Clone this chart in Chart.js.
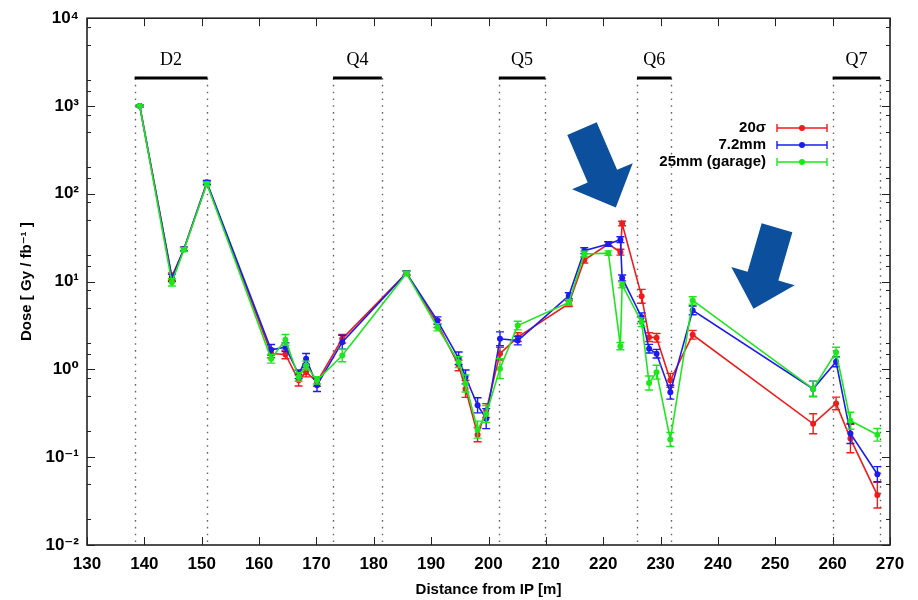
<!DOCTYPE html>
<html>
<head>
<meta charset="utf-8">
<script src="https://cdn.jsdelivr.net/npm/chart.js@4.4.0/dist/chart.umd.min.js"></script>
<style>
  html, body { margin: 0; padding: 0; background: #fff; }
  #wrap { width: 918px; height: 600px; }
</style>
</head>
<body>
<div id="wrap"><canvas id="doseChart" width="918" height="600"></canvas></div>
<script>
// distance from IP [m] of each dose sample
const distance = [139.2, 144.8, 146.9, 150.9, 162.1, 164.6, 166.9, 168.2, 170.1, 174.5, 185.7, 191.1, 194.8, 196.0, 198.1, 199.6,
                  202.0, 205.1, 214.0, 216.7, 220.9, 223.0, 223.3, 226.7, 228.0, 229.3, 231.7, 235.6, 256.6, 260.6, 263.1, 267.8];

// dose [Gy / fb^-1] for the three collimator settings
const dose20sigma = [1000, 11.4, 23.5, 132, 1.52, 1.48, 0.75, 0.93, 0.72, 2.23, 12.5, 3.3, 1.11, 0.60, 0.18, 0.34,
                     1.51, 2.33, 5.6, 17.6, 26.8, 21.6, 45.9, 6.8, 2.33, 2.29, 0.75, 2.48, 0.24, 0.41, 0.163, 0.037];
const dose72mm    = [1000, 11.0, 23.5, 135, 1.67, 1.79, 0.88, 1.32, 0.66, 2.04, 12.5, 3.6, 1.34, 0.82, 0.39, 0.275,
                     2.23, 2.13, 6.9, 22.5, 26.8, 30.0, 11.0, 3.93, 1.72, 1.51, 0.55, 4.7, 0.60, 1.22, 0.186, 0.064];
const dose25mm    = [1000, 9.8, 23.1, 130, 1.32, 2.17, 0.82, 1.11, 0.75, 1.44, 12.4, 3.02, 1.21, 0.69, 0.206, 0.31,
                     1.02, 3.16, 5.8, 20.6, 21.1, 1.84, 9.2, 3.45, 0.70, 0.93, 0.159, 6.1, 0.60, 1.57, 0.26, 0.18];

// relative errors
const err20sigma = [0.03, 0.10, 0.05, 0.05, 0.12, 0.12, 0.16, 0.13, 0.12, 0.12, 0.06, 0.10, 0.15, 0.25, 0.20, 0.20,
                    0.18, 0.12, 0.08, 0.08, 0.06, 0.08, 0.06, 0.20, 0.12, 0.12, 0.20, 0.12, 0.30, 0.18, 0.45, 0.40];
const err72mm    = [0.03, 0.10, 0.05, 0.05, 0.15, 0.12, 0.12, 0.15, 0.18, 0.20, 0.06, 0.10, 0.18, 0.20, 0.22, 0.30,
                    0.20, 0.12, 0.08, 0.08, 0.06, 0.08, 0.08, 0.12, 0.12, 0.12, 0.20, 0.12, 0.22, 0.14, 0.30, 0.22];
const err25mm    = [0.03, 0.10, 0.05, 0.05, 0.12, 0.15, 0.12, 0.12, 0.10, 0.18, 0.06, 0.10, 0.15, 0.25, 0.25, 0.25,
                    0.30, 0.12, 0.08, 0.08, 0.06, 0.10, 0.08, 0.12, 0.20, 0.20, 0.20, 0.10, 0.22, 0.14, 0.25, 0.18];

const seriesLabels = ['20σ', '7.2mm', '25mm (garage)'];
const seriesColors = ['#ee1c1c', '#1c1cee', '#1ee61e'];

// magnet extents along the beamline [m]
const magnetNames = ['D2', 'Q4', 'Q5', 'Q6', 'Q7'];
const magnetStart = [138.3, 172.9, 201.8, 225.9, 260.0];
const magnetEnd   = [151.0, 181.4, 209.9, 231.9, 268.3];

// arrows (tail -> tip) in axis units
const arrowTail = [[216.3, 552], [250.3, 41]];
const arrowTip  = [[222.2, 70], [246.2, 4.9]];

const FONT = "'Liberation Sans', Arial, 'DejaVu Sans', sans-serif";
const SUP = { '-': '⁻', '0': '⁰', '1': '¹', '2': '²', '3': '³', '4': '⁴' };

function makeSeries(values, errs, i) {
    return {
        label: seriesLabels[i],
        data: distance.map((d, k) => ({ x: d, y: values[k] })),
        errLow: values.map((v, k) => v / (1 + errs[k])),
        errHigh: values.map((v, k) => v * (1 + errs[k])),
        borderColor: seriesColors[i],
        backgroundColor: seriesColors[i],
        borderWidth: 1.6,
        pointRadius: 3,
        pointHoverRadius: 3,
        pointBorderWidth: 0,
        tension: 0,
        order: 3 - i
    };
}

// 🟢 magnets: dotted boundaries, black bars and names
const magnetPlugin = {
    id: 'magnets',
    beforeDatasetsDraw(chart) {
        const { ctx, chartArea, scales: { x, y } } = chart;
        const barY = y.getPixelForValue(2080);
        const textY = y.getPixelForValue(3300);
        ctx.save();
        ctx.strokeStyle = '#666';
        ctx.lineWidth = 1.4;
        ctx.setLineDash([1.6, 5.2]);
        magnetStart.forEach((s, i) => {
            [s, magnetEnd[i]].forEach(v => {
                const px = Math.round(x.getPixelForValue(v)) + 0.5;
                ctx.beginPath();
                ctx.moveTo(px, barY);
                ctx.lineTo(px, chartArea.bottom);
                ctx.stroke();
            });
        });
        ctx.setLineDash([]);
        ctx.strokeStyle = '#000';
        ctx.lineWidth = 3;
        ctx.fillStyle = '#000';
        ctx.font = "18px 'Liberation Serif', 'Times New Roman', serif";
        ctx.textAlign = 'center';
        ctx.textBaseline = 'middle';
        magnetNames.forEach((name, i) => {
            const x0 = x.getPixelForValue(magnetStart[i]);
            const x1 = x.getPixelForValue(magnetEnd[i]);
            ctx.beginPath();
            ctx.moveTo(x0, barY);
            ctx.lineTo(x1, barY);
            ctx.stroke();
            ctx.fillText(name, (x0 + x1) / 2, textY);
        });
        ctx.restore();
    }
};

// 🟢 error bars drawn right after their own dataset
const errorBarPlugin = {
    id: 'errorBars',
    afterDatasetDraw(chart, args) {
        const ds = chart.data.datasets[args.index];
        const yScale = chart.scales.y;
        const ctx = chart.ctx;
        ctx.save();
        ctx.strokeStyle = ds.borderColor;
        ctx.lineWidth = 1.4;
        args.meta.data.forEach((pt, i) => {
            const top = yScale.getPixelForValue(ds.errHigh[i]);
            const bot = yScale.getPixelForValue(ds.errLow[i]);
            ctx.beginPath();
            ctx.moveTo(pt.x, top);
            ctx.lineTo(pt.x, bot);
            ctx.moveTo(pt.x - 4, top);
            ctx.lineTo(pt.x + 4, top);
            ctx.moveTo(pt.x - 4, bot);
            ctx.lineTo(pt.x + 4, bot);
            ctx.stroke();
        });
        ctx.restore();
    }
};

// 🟢 frame with inward ticks, legend and arrows
const framePlugin = {
    id: 'frame',
    afterDraw(chart) {
        const { ctx, chartArea: a, scales: { x, y } } = chart;
        ctx.save();
        ctx.strokeStyle = '#222';
        ctx.lineWidth = 1.6;
        ctx.strokeRect(a.left, a.top, a.right - a.left, a.bottom - a.top);
        ctx.lineWidth = 1;
        ctx.beginPath();
        x.ticks.forEach(t => {
            const px = Math.round(x.getPixelForValue(t.value)) + 0.5;
            ctx.moveTo(px, a.bottom); ctx.lineTo(px, a.bottom - 8);
            ctx.moveTo(px, a.top); ctx.lineTo(px, a.top + 8);
        });
        y.ticks.forEach(t => {
            const e = Math.log10(t.value);
            const f = Math.round(t.value / Math.pow(10, Math.floor(e + 1e-9)));
            let len = 0;
            if (Math.abs(e - Math.round(e)) < 1e-6) len = 8;
            else if (f === 2 || f === 5 || f === 8) len = 4;
            if (!len) return;
            const py = Math.round(y.getPixelForValue(t.value)) + 0.5;
            ctx.moveTo(a.left, py); ctx.lineTo(a.left + len, py);
            ctx.moveTo(a.right, py); ctx.lineTo(a.right - len, py);
        });
        ctx.stroke();

        // legend
        const textRight = 766, lineL = 777, lineR = 827;
        ctx.font = 'bold 15px ' + FONT;
        ctx.textAlign = 'right';
        ctx.textBaseline = 'middle';
        chart.data.datasets.forEach((ds, i) => {
            const ly = 128 + i * 17;
            ctx.fillStyle = '#000';
            ctx.fillText(ds.label, textRight, ly);
            ctx.strokeStyle = ds.borderColor;
            ctx.lineWidth = 1.4;
            ctx.beginPath();
            ctx.moveTo(lineL, ly); ctx.lineTo(lineR, ly);
            ctx.moveTo(lineL, ly - 4); ctx.lineTo(lineL, ly + 4);
            ctx.moveTo(lineR, ly - 4); ctx.lineTo(lineR, ly + 4);
            ctx.stroke();
            ctx.fillStyle = ds.borderColor;
            ctx.beginPath();
            ctx.arc((lineL + lineR) / 2, ly, 3, 0, Math.PI * 2);
            ctx.fill();
        });

        // arrows
        ctx.fillStyle = '#0b4f9d';
        arrowTail.forEach((tail, i) => {
            const tx = x.getPixelForValue(tail[0]), ty = y.getPixelForValue(tail[1]);
            const hx = x.getPixelForValue(arrowTip[i][0]), hy = y.getPixelForValue(arrowTip[i][1]);
            const len = Math.hypot(hx - tx, hy - ty);
            const ux = (hx - tx) / len, uy = (hy - ty) / len;
            const nx = -uy, ny = ux;
            const shaft = 16, head = 33, headLen = 34;
            const bx = hx - ux * headLen, by = hy - uy * headLen;
            ctx.beginPath();
            ctx.moveTo(tx + nx * shaft, ty + ny * shaft);
            ctx.lineTo(bx + nx * shaft, by + ny * shaft);
            ctx.lineTo(bx + nx * head, by + ny * head);
            ctx.lineTo(hx, hy);
            ctx.lineTo(bx - nx * head, by - ny * head);
            ctx.lineTo(bx - nx * shaft, by - ny * shaft);
            ctx.lineTo(tx - nx * shaft, ty - ny * shaft);
            ctx.closePath();
            ctx.fill();
        });
        ctx.restore();
    }
};

const ctx = document.getElementById('doseChart').getContext('2d');
new Chart(ctx, {
    type: 'line',
    data: {
        datasets: [
            makeSeries(dose20sigma, err20sigma, 0),
            makeSeries(dose72mm, err72mm, 1),
            makeSeries(dose25mm, err25mm, 2)
        ]
    },
    options: {
        responsive: false,
        animation: false,
        layout: { padding: { left: 0, right: 28, top: 17, bottom: 0 } },
        plugins: {
            legend: { display: false },
            tooltip: { enabled: false }
        },
        scales: {
            x: {
                type: 'linear',
                min: 130,
                max: 270,
                afterFit: s => { s.height = 55; },
                grid: { display: false, drawTicks: false },
                border: { display: false },
                ticks: {
                    stepSize: 10,
                    padding: 9,
                    color: '#000',
                    font: { family: FONT, size: 17, weight: 'bold' }
                },
                title: {
                    display: true,
                    text: 'Distance from IP [m]',
                    color: '#000',
                    padding: { top: 0, bottom: 1 },
                    font: { family: FONT, size: 15, weight: 'bold' }
                }
            },
            y: {
                type: 'logarithmic',
                min: 0.01,
                max: 10000,
                afterFit: s => { s.width = 87; },
                grid: { display: false, drawTicks: false },
                border: { display: false },
                ticks: {
                    autoSkip: false,
                    padding: 8,
                    color: '#000',
                    font: { family: FONT, size: 17, weight: 'bold' },
                    callback: v => {
                        const e = Math.log10(v);
                        if (Math.abs(e - Math.round(e)) > 1e-6) return '';
                        return '10' + String(Math.round(e)).split('').map(c => SUP[c]).join('');
                    }
                },
                title: {
                    display: true,
                    text: 'Dose [ Gy / fb⁻¹ ]',
                    color: '#000',
                    padding: { top: 18, bottom: 0 },
                    font: { family: FONT, size: 15, weight: 'bold' }
                }
            }
        }
    },
    plugins: [magnetPlugin, errorBarPlugin, framePlugin]
});
</script>
</body>
</html>
